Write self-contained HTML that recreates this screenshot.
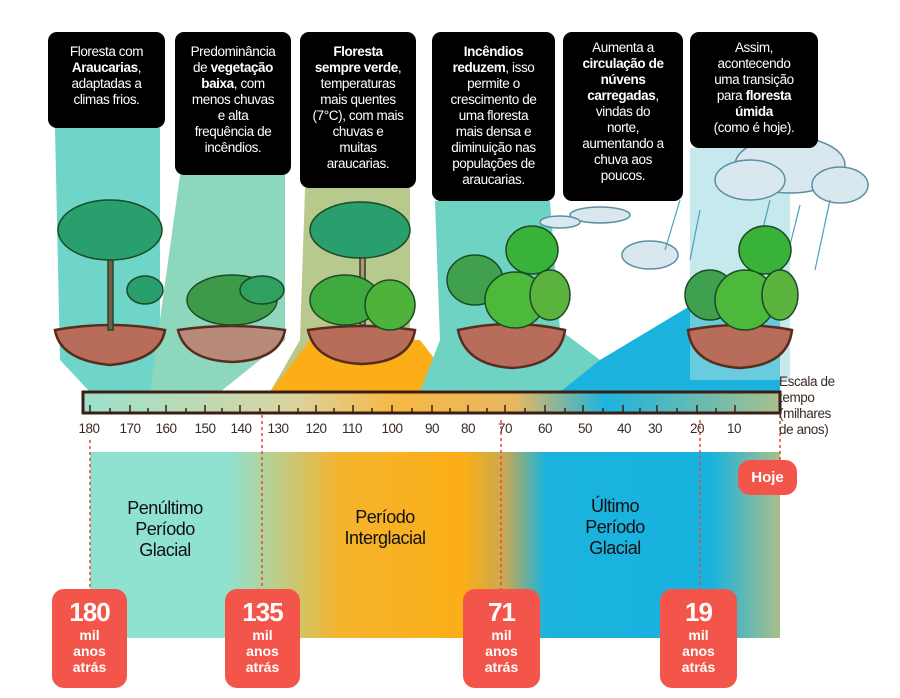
<!DOCTYPE html>
<html><head><meta charset="utf-8"><style>
body{margin:0;background:#fff;}
#c{position:relative;width:900px;height:698px;overflow:hidden;font-family:"Liberation Sans Narrow","Liberation Sans",sans-serif;}
.box{position:absolute;top:32px;background:#000;color:#fff;border-radius:9px;font-size:13.5px;letter-spacing:-0.4px;line-height:16px;text-align:center;padding-top:12px;box-sizing:border-box;}
.box b{font-weight:bold;}
.tag{position:absolute;background:#f4554a;color:#fff;border-radius:12px;text-align:center;font-weight:bold;}
.tag .n{font-size:26px;line-height:30px;margin-top:8px;letter-spacing:-1px;}
.tag .s{font-size:14px;line-height:16px;}
.lbl{position:absolute;font-size:18px;line-height:21px;text-align:center;color:#111;letter-spacing:-0.5px;}
.tk{position:absolute;top:421px;font-size:13.5px;letter-spacing:-0.5px;color:#3a2a22;transform:translateX(-50%);}
</style></head><body><div id="c">
<svg width="900" height="698" style="position:absolute;left:0;top:0">
<defs>
<linearGradient id="band" x1="0" x2="1">
<stop offset="0" stop-color="#8fe2d0"/><stop offset="0.2" stop-color="#8fe2d0"/>
<stop offset="0.36" stop-color="#f5b42e"/><stop offset="0.54" stop-color="#fbae17"/>
<stop offset="0.6" stop-color="#c8a950"/><stop offset="0.66" stop-color="#1bb3dd"/>
<stop offset="0.9" stop-color="#18b2de"/><stop offset="1" stop-color="#a9bf8b"/>
</linearGradient>
<linearGradient id="bar" x1="0" x2="1">
<stop offset="0" stop-color="#9be1cd"/><stop offset="0.3" stop-color="#d9d4a0"/>
<stop offset="0.45" stop-color="#f6b843"/><stop offset="0.62" stop-color="#e7b760"/>
<stop offset="0.75" stop-color="#1cb4de"/><stop offset="1" stop-color="#a9c08b"/>
</linearGradient>
</defs>
<polygon points="55,128 160,128 160,360 150,392 90,392 60,360" fill="#6fd5c8"/>
<polygon points="180,175 285,175 285,340 220,392 150,392" fill="#8dd8bd"/>
<polygon points="305,188 410,188 410,330 440,392 270,392 300,340" fill="#b8c98e"/>
<polygon points="270,392 310,340 420,340 460,392" fill="#fbae17"/>
<polygon points="435,201 550,201 560,330 600,360 640,340 700,300 780,340 780,392 420,392 440,340" fill="#6ed3c3"/>
<polygon points="600,360 700,300 780,300 780,392 560,392" fill="#1bb3dd"/>
<polygon points="690,148 790,148 790,380 690,380" fill="#9fdadf" opacity="0.6"/>
<g fill="#d8e8ee" stroke="#5d8ea3" stroke-width="1.5">
<ellipse cx="790" cy="165" rx="55" ry="28"/><ellipse cx="750" cy="180" rx="35" ry="20"/><ellipse cx="840" cy="185" rx="28" ry="18"/>
<ellipse cx="650" cy="255" rx="28" ry="14"/><ellipse cx="600" cy="215" rx="30" ry="8"/><ellipse cx="560" cy="222" rx="20" ry="6"/>
</g>
<g stroke="#4aa0c0" stroke-width="1.2">
<line x1="770" y1="200" x2="755" y2="260"/><line x1="800" y1="205" x2="785" y2="265"/><line x1="830" y1="200" x2="815" y2="270"/><line x1="700" y1="210" x2="690" y2="260"/><line x1="680" y1="200" x2="665" y2="250"/>
</g>
<g stroke="#5a2c1e" stroke-width="2.5">
<path d="M55,330 Q110,320 165,330 Q160,360 110,365 Q60,360 55,330Z" fill="#b86c5a"/>
<path d="M178,330 Q232,322 285,330 Q280,360 232,362 Q185,360 178,330Z" fill="#b88a7a"/>
<path d="M308,330 Q362,322 415,330 Q410,362 362,364 Q315,362 308,330Z" fill="#b86c5a"/>
<path d="M458,330 Q512,318 565,330 Q560,365 512,368 Q465,365 458,330Z" fill="#b86c5a"/>
<path d="M688,330 Q740,320 792,330 Q788,365 740,368 Q692,365 688,330Z" fill="#b86c5a"/>
</g>
<g fill="#3fa858" stroke="#1d4a25" stroke-width="1.5">
<rect x="108" y="240" width="5" height="90" fill="#7a5b4a"/>
<ellipse cx="110" cy="230" rx="52" ry="30" fill="#2a9f6e"/><ellipse cx="145" cy="290" rx="18" ry="14" fill="#2a9f6e"/>
<ellipse cx="232" cy="300" rx="45" ry="25" fill="#3c9a4a"/><ellipse cx="262" cy="290" rx="22" ry="14" fill="#2fa060"/>
<rect x="360" y="235" width="5" height="90" fill="#c98a7a"/>
<ellipse cx="360" cy="230" rx="50" ry="28" fill="#2a9f6e"/><ellipse cx="345" cy="300" rx="35" ry="25" fill="#3fab3f"/><ellipse cx="390" cy="305" rx="25" ry="25" fill="#4db33a"/>
<ellipse cx="532" cy="250" rx="26" ry="24" fill="#39b23a"/><ellipse cx="475" cy="280" rx="28" ry="25" fill="#3fa050"/><ellipse cx="515" cy="300" rx="30" ry="28" fill="#4db93a"/><ellipse cx="550" cy="295" rx="20" ry="25" fill="#5ab33c"/>
<ellipse cx="765" cy="250" rx="26" ry="24" fill="#39b23a"/><ellipse cx="710" cy="295" rx="25" ry="25" fill="#3fa050"/><ellipse cx="745" cy="300" rx="30" ry="30" fill="#4db93a"/><ellipse cx="780" cy="295" rx="18" ry="25" fill="#5ab33c"/>
</g>
<rect x="90" y="452" width="690" height="186" fill="url(#band)"/>
<rect x="83" y="392" width="697" height="21" fill="url(#bar)" stroke="#3b1f17" stroke-width="3"/>
<g stroke="#3b1f17" stroke-width="1.5">
<line x1="90" y1="405" x2="90" y2="413"/><line x1="110" y1="408" x2="110" y2="413"/><line x1="130" y1="405" x2="130" y2="413"/><line x1="148" y1="408" x2="148" y2="413"/><line x1="166" y1="405" x2="166" y2="413"/><line x1="186" y1="408" x2="186" y2="413"/><line x1="205" y1="405" x2="205" y2="413"/><line x1="222" y1="408" x2="222" y2="413"/><line x1="240" y1="405" x2="240" y2="413"/><line x1="260" y1="408" x2="260" y2="413"/><line x1="279" y1="405" x2="279" y2="413"/><line x1="298" y1="408" x2="298" y2="413"/><line x1="316" y1="405" x2="316" y2="413"/><line x1="334" y1="408" x2="334" y2="413"/><line x1="353" y1="405" x2="353" y2="413"/><line x1="372" y1="408" x2="372" y2="413"/><line x1="392" y1="405" x2="392" y2="413"/><line x1="412" y1="408" x2="412" y2="413"/><line x1="432" y1="405" x2="432" y2="413"/><line x1="450" y1="408" x2="450" y2="413"/><line x1="468" y1="405" x2="468" y2="413"/><line x1="487" y1="408" x2="487" y2="413"/><line x1="505" y1="405" x2="505" y2="413"/><line x1="525" y1="408" x2="525" y2="413"/><line x1="545" y1="405" x2="545" y2="413"/><line x1="565" y1="408" x2="565" y2="413"/><line x1="583" y1="405" x2="583" y2="413"/><line x1="603" y1="408" x2="603" y2="413"/><line x1="623" y1="405" x2="623" y2="413"/><line x1="640" y1="408" x2="640" y2="413"/><line x1="657" y1="405" x2="657" y2="413"/><line x1="677" y1="408" x2="677" y2="413"/><line x1="697" y1="405" x2="697" y2="413"/><line x1="716" y1="408" x2="716" y2="413"/><line x1="735" y1="405" x2="735" y2="413"/>
</g>
<g stroke="#e8453c" stroke-width="1.5" stroke-dasharray="3,3">
<line x1="90" y1="440" x2="90" y2="590"/><line x1="262" y1="415" x2="262" y2="590"/><line x1="501" y1="420" x2="501" y2="590"/><line x1="700" y1="420" x2="700" y2="590"/><line x1="780" y1="415" x2="780" y2="460"/>
</g>
</svg>
<div class="box" style="left:48px;width:117px;height:96px">Floresta com<br><b>Araucarias</b>,<br>adaptadas a<br>climas frios.</div>
<div class="box" style="left:175px;width:116px;height:143px">Predominância<br>de <b>vegetação<br>baixa</b>, com<br>menos chuvas<br>e alta<br>frequência de<br>incêndios.</div>
<div class="box" style="left:300px;width:116px;height:156px"><b>Floresta<br>sempre verde</b>,<br>temperaturas<br>mais quentes<br>(7°C), com mais<br>chuvas e<br>muitas<br>araucarias.</div>
<div class="box" style="left:432px;width:123px;height:169px"><b>Incêndios<br>reduzem</b>, isso<br>permite o<br>crescimento de<br>uma floresta<br>mais densa e<br>diminuição nas<br>populações de<br>araucarias.</div>
<div class="box" style="left:563px;width:120px;height:169px;padding-top:8px">Aumenta a<br><b>circulação de<br>núvens<br>carregadas</b>,<br>vindas do<br>norte,<br>aumentando a<br>chuva aos<br>poucos.</div>
<div class="box" style="left:690px;width:128px;height:116px;padding-top:8px">Assim,<br>acontecendo<br>uma transição<br>para <b>floresta<br>úmida</b><br>(como é hoje).</div>
<div style="position:absolute;left:779px;top:374px;font-size:13.5px;letter-spacing:-0.4px;line-height:16px;color:#3a2a22">Escala de<br>tempo<br>(milhares<br>de anos)</div>
<div class="tk" style="left:89px">180</div><div class="tk" style="left:130px">170</div><div class="tk" style="left:166px">160</div><div class="tk" style="left:205px">150</div><div class="tk" style="left:241px">140</div><div class="tk" style="left:278px">130</div><div class="tk" style="left:316px">120</div><div class="tk" style="left:352px">110</div><div class="tk" style="left:392px">100</div><div class="tk" style="left:432px">90</div><div class="tk" style="left:468px">80</div><div class="tk" style="left:505px">70</div><div class="tk" style="left:545px">60</div><div class="tk" style="left:585px">50</div><div class="tk" style="left:624px">40</div><div class="tk" style="left:655px">30</div><div class="tk" style="left:697px">20</div><div class="tk" style="left:734px">10</div>
<div class="lbl" style="left:110px;top:498px;width:110px">Penúltimo<br>Período<br>Glacial</div>
<div class="lbl" style="left:330px;top:507px;width:110px">Período<br>Interglacial</div>
<div class="lbl" style="left:570px;top:496px;width:90px">Último<br>Período<br>Glacial</div>
<div class="tag" style="left:738px;top:460px;width:59px;height:35px;font-size:15px;line-height:35px">Hoje</div>
<div class="tag" style="left:52px;top:589px;width:75px;height:99px"><div class="n">180</div><div class="s">mil<br>anos<br>atrás</div></div>
<div class="tag" style="left:225px;top:589px;width:75px;height:99px"><div class="n">135</div><div class="s">mil<br>anos<br>atrás</div></div>
<div class="tag" style="left:463px;top:589px;width:77px;height:99px"><div class="n">71</div><div class="s">mil<br>anos<br>atrás</div></div>
<div class="tag" style="left:660px;top:589px;width:77px;height:99px"><div class="n">19</div><div class="s">mil<br>anos<br>atrás</div></div>
</div></body></html>
